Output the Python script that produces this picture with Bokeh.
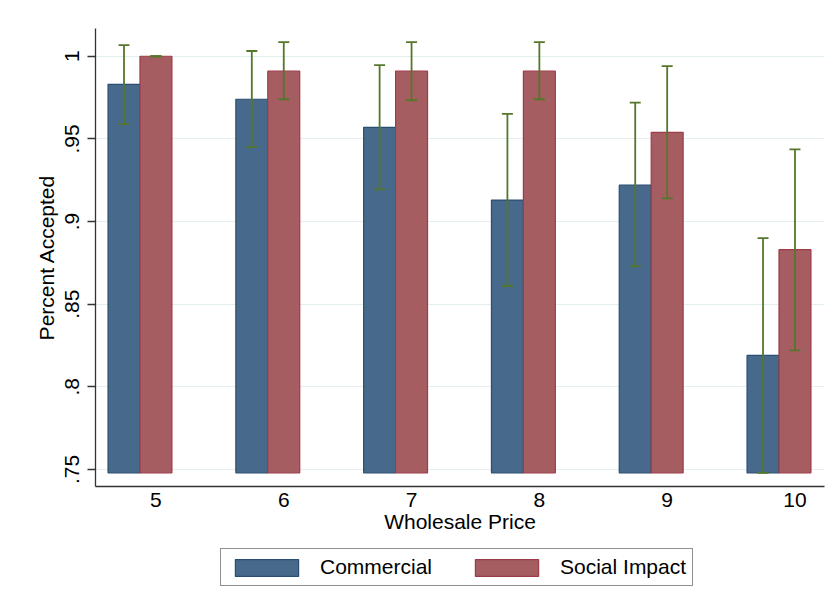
from bokeh.plotting import figure
from bokeh.layouts import column
from bokeh.models import (ColumnDataSource, Range1d, FixedTicker, Whisker, TeeHead,
                          Legend, LegendItem)
from bokeh.embed import file_html
from bokeh.resources import INLINE

# ---- data ----
prices = [5, 6, 7, 8, 9, 10]
price_labels = ["5", "6", "7", "8", "9", "10"]
commercial = [0.983, 0.974, 0.957, 0.913, 0.922, 0.819]
commercial_lo = [0.959, 0.945, 0.9195, 0.861, 0.873, 0.748]
commercial_hi = [1.0067, 1.0032, 0.9946, 0.9651, 0.972, 0.890]
social = [1.0, 0.991, 0.991, 0.991, 0.954, 0.883]
social_lo = [1.0, 0.974, 0.9734, 0.974, 0.914, 0.822]
social_hi = [1.0, 1.0085, 1.0085, 1.0085, 0.994, 0.9437]
y_ticks = [0.75, 0.8, 0.85, 0.9, 0.95, 1.0]
y_tick_labels = [".75", ".8", ".85", ".9", ".95", "1"]
series_names = ["Commercial", "Social Impact"]

# ---- style ----
BAR_W = 0.25
COMM_OFFSET = -0.25
BASE = 0.748
FONT = "Liberation Sans"
C_COMM = "#476a8c"
C_COMM_LINE = "#2a4e72"
C_SOC = "#a65d61"
C_SOC_LINE = "#9c3c48"
C_ERR = "#55772b"

src_c = ColumnDataSource(dict(x=[p + COMM_OFFSET for p in prices], top=commercial,
                              lo=commercial_lo, hi=commercial_hi))
src_s = ColumnDataSource(dict(x=prices, top=social, lo=social_lo, hi=social_hi))

p = figure(width=830, height=546, output_backend="svg", toolbar_location=None,
           x_range=Range1d(4.527, 10.231), y_range=Range1d(0.7397, 1.0168),
           min_border_left=95, min_border_right=6, min_border_top=28,
           min_border_bottom=60)
p.outline_line_color = None
p.background_fill_color = "white"
p.border_fill_color = "white"

p.vbar(x="x", top="top", bottom=BASE, width=BAR_W, source=src_c,
       fill_color=C_COMM, line_color=C_COMM_LINE, line_width=1.2)
p.vbar(x="x", top="top", bottom=BASE, width=BAR_W, source=src_s,
       fill_color=C_SOC, line_color=C_SOC_LINE, line_width=1.2)

for src in (src_c, src_s):
    w = Whisker(base="x", upper="hi", lower="lo", source=src,
                line_color=C_ERR, line_width=1.8, level="annotation",
                upper_head=TeeHead(size=11, line_color=C_ERR, line_width=1.8),
                lower_head=TeeHead(size=11, line_color=C_ERR, line_width=1.8))
    p.add_layout(w)

# grid
p.xgrid.grid_line_color = None
p.ygrid.ticker = FixedTicker(ticks=y_ticks)
p.ygrid.grid_line_color = "#e3eef0"
p.ygrid.grid_line_width = 1.2

# y axis
p.yaxis.ticker = FixedTicker(ticks=y_ticks)
p.yaxis.major_label_overrides = {t: l for t, l in zip(y_ticks, y_tick_labels)}
p.yaxis.major_label_orientation = "vertical"
p.yaxis.axis_label = "Percent Accepted"
p.yaxis.major_tick_out = 8
p.yaxis.major_tick_in = 0
p.yaxis.minor_tick_line_color = None
p.yaxis.major_label_standoff = 8
p.yaxis.axis_label_standoff = 5

# x axis
p.xaxis.ticker = FixedTicker(ticks=prices)
p.xaxis.major_label_overrides = {t: l for t, l in zip(prices, price_labels)}
p.xaxis.axis_label = "Wholesale Price"
p.xaxis.major_tick_out = 0
p.xaxis.major_tick_in = 0
p.xaxis.minor_tick_line_color = None
p.xaxis.major_label_standoff = 6
p.xaxis.axis_label_standoff = 0

for ax in (p.xaxis, p.yaxis):
    ax.axis_line_color = "#333333"
    ax.axis_line_width = 1.3
    ax.major_tick_line_color = "#333333"
    ax.major_tick_line_width = 1.3
    ax.major_label_text_font = FONT
    ax.major_label_text_font_size = "21px"
    ax.major_label_text_color = "black"
    ax.axis_label_text_font = FONT
    ax.axis_label_text_font_size = "21px"
    ax.axis_label_text_font_style = "normal"
    ax.axis_label_text_color = "black"

# ---- legend strip below the chart ----
lg = figure(width=830, height=54, output_backend="svg", toolbar_location=None,
            x_range=Range1d(0, 1), y_range=Range1d(0, 1),
            x_axis_location=None, y_axis_location=None,
            min_border_left=95, min_border_right=6, min_border_top=0,
            min_border_bottom=0)
lg.outline_line_color = None
lg.grid.visible = False
lg.border_fill_color = "white"
lg.background_fill_color = "white"
# legend-key renderers: one bar each, placed outside the visible range
key = dict(x=[-5], top=[-5])
g1 = lg.vbar(x="x", top="top", bottom=-6, width=0.1, source=ColumnDataSource(key),
             fill_color=C_COMM, line_color=C_COMM_LINE, line_width=1.2)
g2 = lg.vbar(x="x", top="top", bottom=-6, width=0.1, source=ColumnDataSource(key),
             fill_color=C_SOC, line_color=C_SOC_LINE, line_width=1.2)

legend = Legend(items=[LegendItem(label=series_names[0], renderers=[g1]),
                       LegendItem(label=series_names[1], renderers=[g2])],
                orientation="horizontal", location=(125, 14), margin=0,
                padding=6, spacing=35, label_standoff=14,
                glyph_width=79, glyph_height=21,
                label_text_font=FONT, label_text_font_size="21px",
                label_text_color="black",
                border_line_color="#222222", border_line_width=1.2,
                background_fill_color="white", background_fill_alpha=1.0)
lg.add_layout(legend)

layout = column(p, lg, spacing=0)
open("out.html", "w").write(file_html(layout, INLINE))
